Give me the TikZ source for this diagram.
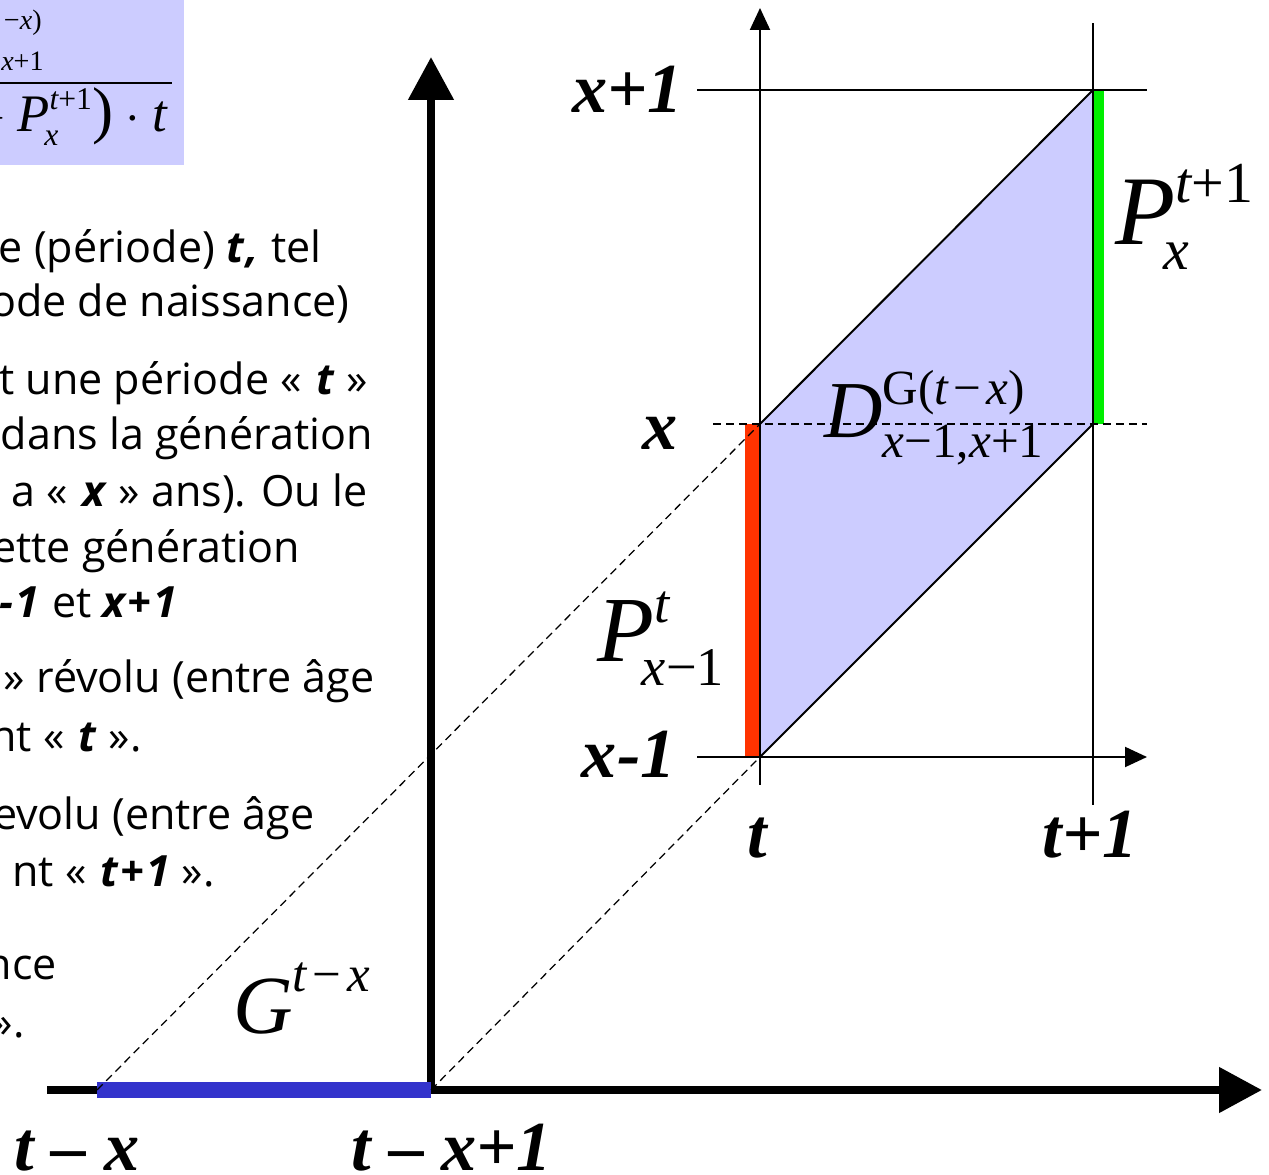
\RequirePackage{fix-cm}
\documentclass[tikz,border=0pt]{standalone}
\usepackage{amsmath}
\usepackage{fontspec}
\setmainfont{Liberation Serif}
\newfontfamily\slidefont{Open Sans}
\usetikzlibrary{arrows.meta}

\definecolor{lilac}{HTML}{CCCCFF}
\definecolor{genblue}{HTML}{3333CC}
\definecolor{popred}{HTML}{FF3300}
\definecolor{popgreen}{HTML}{00EE00}

% script sizes close to the slide's equation editor
\DeclareMathSizes{16}{16}{10}{8}
\DeclareMathSizes{30}{30}{18}{13}
\DeclareMathSizes{46}{46}{28}{20}
\DeclareMathSizes{47}{47}{29}{20}
\DeclareMathSizes{53}{53}{31}{22}
\DeclareMathSizes{56}{56}{33}{24}

\newcommand{\tvi}[1]{\text{\normalfont\itshape #1}}
\newcommand{\tvr}[1]{\text{\normalfont #1}}
\newcommand{\emt}[1]{{\addfontfeature{LetterSpace=5}\textbf{\textit{#1}}}}
\newcommand{\guil}[1]{«\hspace{0.33em}\emt{#1}\hspace{0.22em}»}

\begin{document}
\begin{tikzpicture}[x=0.02cm, y=-0.02cm,
		% axes of the big diagram and of the zoomed square
		bigaxis/.style={line width=0.16cm, -{Triangle[length=0.86cm, width=0.88cm]}},
		smallaxis/.style={line width=0.04cm, -{Triangle[length=0.44cm, width=0.4cm]}},
		gridline/.style={line width=0.04cm},
		lifeline/.style={line width=0.025cm, dash pattern=on 0.16cm off 0.1cm},
		% labels
		agelabel/.style={font=\fontsize{40}{40}\selectfont\bfseries\itshape, inner sep=0pt},
		slideline/.style={font=\slidefont\fontsize{24.5}{30}\selectfont, anchor=base east, inner sep=0pt},
		mathlabel/.style={inner sep=0pt, anchor=base west}
		]
		\useasboundingbox (0,0) rectangle (1269,1175);
		\clip (0,0) rectangle (1269,1175);
		
		% --- 1. Formula box (top left, cut by the slide edge) ---
		\fill[lilac] (0,0) rectangle (184,165);
		\node[inner sep=0pt, anchor=base east, font=\fontsize{16}{16}\selectfont] (numsup) at (42,30) {$\tvr{−}\tvi{x}\tvr{)}$};
		\node[inner sep=0pt, anchor=base east, font=\fontsize{16}{16}\selectfont] (numsub) at (44,71) {$\tvi{x}\tvr{+1}$};
		\coordinate (barL) at (0,83);
		\coordinate (barR) at (172,83);
		\draw[line width=0.05cm] (barL) -- (barR);
		\node[inner sep=0pt, anchor=base east, font=\fontsize{30}{30}\selectfont] (denom) at (167,132)
			{${}+\tvi{P}^{\tvi{t}\tvr{+1}}_{\kern-3pt\tvi{x}}\tvr{\fontsize{36}{36}\selectfont)}\cdot\tvi{t}$};
		
		% --- 2. Slide text (cut by the slide edge) ---
		\node[slideline] (l1) at (322,263) {e (période) \emt{t,} tel};
		\node[slideline] (l2) at (350,317) {ode de naissance)};
		\node[slideline] (l3) at (368,395) {t une période \guil{t}};
		\node[slideline] (l4) at (373,450) {dans la génération};
		\node[slideline] (l5) at (368,507) {a \guil{x} ans).\hspace{0.35em}Ou le};
		\node[slideline] (l6) at (300,563) {ette génération};
		\node[slideline] (l7) at (180,618) {\emt{-1} et \emt{x+1}};
		\node[slideline] (l8) at (375,693) {» révolu (entre âge};
		\node[slideline] (l9) at (142,752) {nt \guil{t}.};
		\node[slideline] (l10) at (315,830) {evolu (entre âge};
		\node[slideline] (l11) at (215,887) {nt \guil{t+1}.};
		\node[slideline] (l12) at (57,980) {nce};
		\node[slideline] (l13) at (25,1037) {».};
		
		% --- 3. Corner points ---
		\coordinate (genA) at (97,1090);
		\coordinate (genB) at (431,1090);
		\coordinate (tLow) at (760,757);
		\coordinate (tMid) at (760,424);
		\coordinate (tOneMid) at (1093,424);
		\coordinate (tOneTop) at (1093,90);
		
		% --- 4. Deaths parallelogram ---
		\fill[lilac] (tMid) -- (tOneTop) -- (tOneMid) -- (tLow) -- cycle;
		\fill[popred] (745,424) rectangle (759,757);
		\fill[popgreen] (1093,90) rectangle (1104,424);
		
		% --- 5. Big axes ---
		\draw[bigaxis] (47,1090) -- (1262,1090);
		\draw[bigaxis] (431,1094) -- (431,57);
		\draw[genblue, line width=0.32cm] (genA) -- (genB);
		
		% --- 6. Zoomed square ---
		\draw[smallaxis] (760,785) -- (760,8);
		\draw[smallaxis] (697,757) -- (1147,757);
		\draw[gridline] (1093,805) -- (1093,23);
		\draw[gridline] (697,90) -- (1147,90);
		\draw[lifeline] (713,424) -- (1147,424);
		\draw[gridline] (tMid) -- (tOneTop);
		\draw[gridline] (tLow) -- (tOneMid);
		
		% --- 7. Life lines of the generation ---
		\draw[lifeline] (genA) -- (tMid);
		\draw[lifeline] (genB) -- (tLow);
		
		% --- 8. Labels ---
		\node[agelabel, anchor=base east] (xup) at (683,113) {x+1};
		\node[agelabel, anchor=base east] (xmid) at (678,450) {x};
		\node[agelabel, anchor=base east] (xlow) at (676,778) {x-1};
		\node[agelabel, anchor=base] (tlab) at (757,858) {t};
		\node[agelabel, anchor=base] (tonelab) at (1090,858) {t+1};
		\node[agelabel, anchor=base] (genAlab) at (77,1170) {t – x};
		\node[agelabel, anchor=base] (genBlab) at (452,1170) {t – x+1};
		
		\node[mathlabel, font=\fontsize{47}{47}\selectfont] (glab) at (233,1033)
			{${\tvi{G}\rule{0pt}{0.74em}}^{\tvi{t}\mkern2mu\tvr{−}\mkern2mu\tvi{x}}$};
		\node[mathlabel, font=\fontsize{56}{56}\selectfont] (pright) at (1115,245)
			{$\tvi{P}^{\tvi{t}\tvr{+1}}_{\kern-7pt\tvi{x}}$};
		\node[mathlabel, font=\fontsize{53}{53}\selectfont] (pleft) at (597,662)
			{$\tvi{P}^{\tvi{t}}_{\kern-7pt\tvi{x}\tvr{−1}}$};
		\node[mathlabel, font=\fontsize{46}{46}\selectfont] (dlab) at (824,438)
			{$\tvi{D}^{\tvr{G(}\tvi{t}\mkern2mu\tvr{−}\mkern2mu\tvi{x}\tvr{)}}_{\tvi{x}\tvr{−1,}\tvi{x}\tvr{+1}}$};
		
	\end{tikzpicture}
\end{document}
